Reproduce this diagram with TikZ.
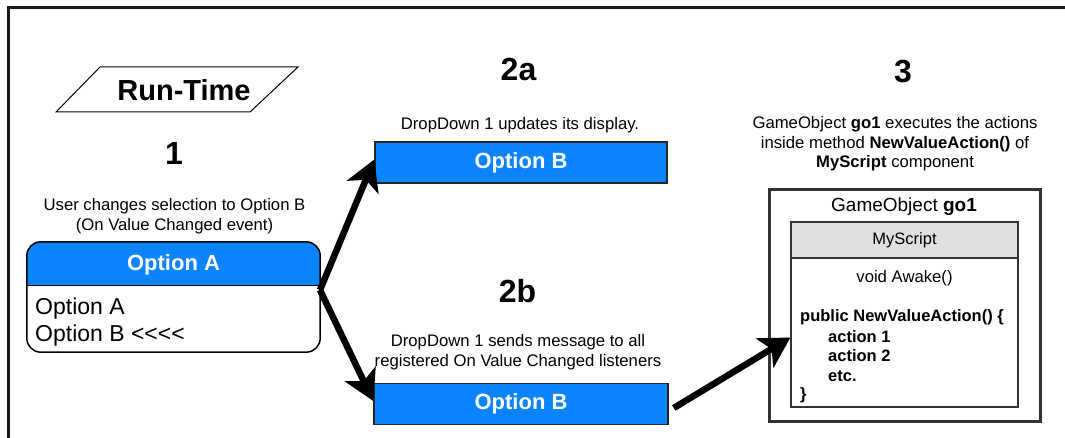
\documentclass[tikz,border=0pt]{standalone}
\usepackage{fontspec}
\setmainfont{Liberation Sans}
\usetikzlibrary{arrows.meta}
\definecolor{ddblue}{RGB}{10,132,255}
\definecolor{hdgray}{RGB}{224,224,224}
\begin{document}
\begin{tikzpicture}[x=1pt,y=-1pt,
  captext/.style={font=\fontsize{16.7}{19.5}\selectfont, align=center, inner sep=0},
  numtext/.style={font=\fontsize{32}{36}\selectfont\bfseries, inner sep=0},
  optbox/.style={draw=black!85, line width=1.5pt, fill=ddblue, minimum width=292pt, minimum height=41pt, text=white, font=\fontsize{22}{24}\selectfont\bfseries, inner sep=0},
  bigarrow/.style={line width=6.5pt, -{Stealth[length=30pt,width=34pt,inset=8pt]}},
  codeline/.style={font=\fontsize{16.5}{19}\selectfont\bfseries, anchor=west, inner sep=0}
]
\useasboundingbox (0,0) rectangle (1065,438);
% frame
\draw[line width=2.5pt, black!90] (1066,7.5) -- (8.5,7.5) -- (8.5,439);

% Run-Time
\draw[line width=1pt] (100,67) -- (298,67) -- (250,112) -- (56,112) -- cycle;
\node[font=\fontsize{29}{32}\selectfont\bfseries, inner sep=0] (rt) at (184,90) {Run-Time};

% step 1
\node[numtext] (n1) at (174,153) {1};
\node[captext] (c1) at (174.5,216) {User changes selection to Option B\\(On Value Changed event)};
\node[minimum width=293pt, minimum height=110pt, inner sep=0] (dd) at (173.5,297) {};
\begin{scope}
  \clip (20,235) rectangle (330,285.5);
  \fill[ddblue, rounded corners=14pt] (dd.north west) rectangle (dd.south east);
\end{scope}
\draw[line width=1.5pt, rounded corners=14pt] (dd.north west) rectangle (dd.south east);
\draw[line width=1.5pt] (27,285.5) -- (320,285.5);
\node[font=\fontsize{22}{24}\selectfont\bfseries, text=white, inner sep=0] (ddh) at (173.5,265) {Option A};
\node[font=\fontsize{23}{26}\selectfont, anchor=west, inner sep=0] (oa) at (35,309) {Option A};
\node[font=\fontsize{23}{26}\selectfont, anchor=west, inner sep=0] (ob) at (35,336) {Option B <\kern0pt<\kern0pt<\kern0pt<};

% step 2a
\node[numtext] (n2a) at (518.5,69) {2a};
\node[captext] (c2a) at (520,125) {DropDown 1 updates its display.};
\node[optbox] (b2a) at (521,162.5) {Option B};

% step 2b
\node[numtext] (n2b) at (517.5,291) {2b};
\node[captext] (c2b) at (518,352) {DropDown 1 sends message to all\\registered On Value Changed listeners};
\node[optbox, minimum width=294pt] (b2b) at (521,404) {Option B};

% step 3
\node[numtext] (n3) at (903,72) {3};
\node[captext] (c3) at (895,144) {GameObject \textbf{go1} executes the actions\\inside method \textbf{NewValueAction()} of\\\textbf{MyScript} component};
\node[draw=black!80, line width=3pt, minimum width=271pt, minimum height=231pt, inner sep=0] (go) at (904.5,305.5) {};
\node[font=\fontsize{19}{22}\selectfont, inner sep=0] (got) at (904,207) {GameObject \textbf{go1}};
\node[draw=black!80, line width=1.2pt, fill=hdgray, minimum width=227pt, minimum height=36pt, inner sep=0, font=\fontsize{16.5}{19}\selectfont] (ms) at (904.5,240) {MyScript};
\node[draw=black!80, line width=1.2pt, minimum width=227pt, minimum height=149pt, inner sep=0] (body) at (904.5,332.5) {};
\node[captext] (aw) at (904.5,278) {void Awake()};
\node[codeline] (l1) at (800,317) {public NewValueAction() \{};
\node[codeline] (l2) at (828,337) {action 1};
\node[codeline] (l3) at (828,356) {action 2};
\node[codeline] (l4) at (828,376) {etc.};
\node[codeline] (l5) at (800,395) {\}};

% arrows
\coordinate (fork) at (320,290);
\draw[bigarrow] (fork) -- ([yshift=3pt]b2a.west);
\draw[bigarrow] (fork) -- ([yshift=3pt]b2b.west);
\draw[bigarrow] ([xshift=5pt,yshift=-4pt]b2b.east) -- ([yshift=-5pt]body.west);
\end{tikzpicture}
\end{document}
